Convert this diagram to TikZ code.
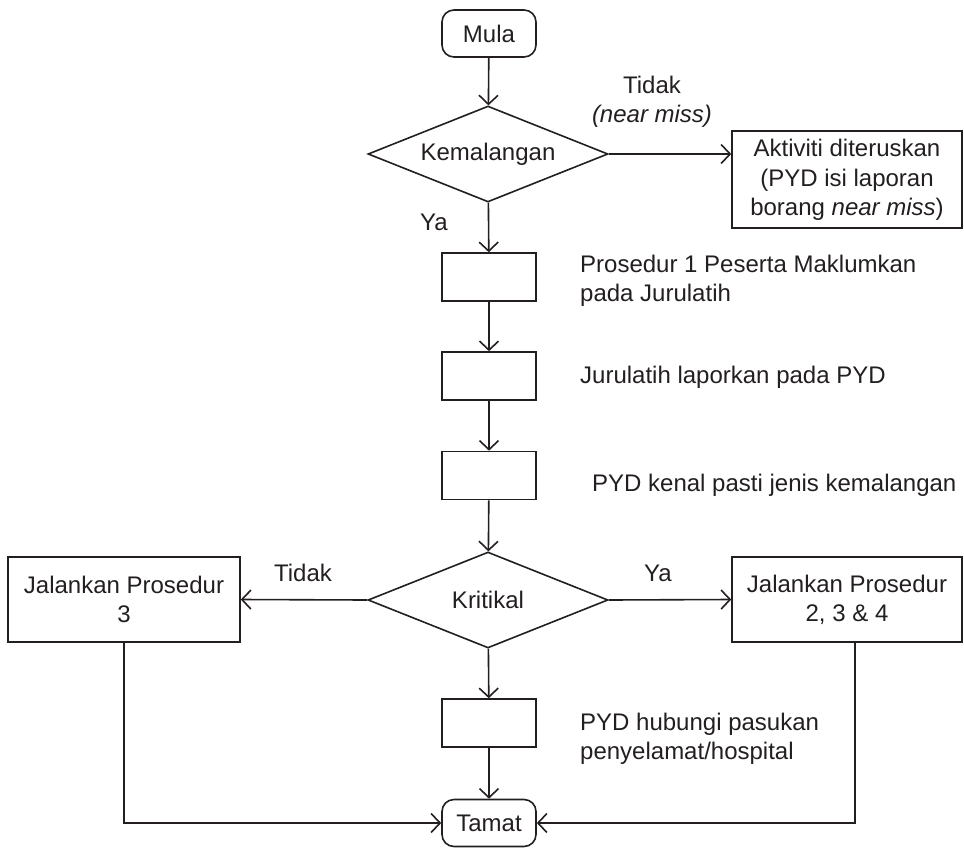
\documentclass[tikz,border=0pt]{standalone}
\usepackage{fontspec}
\setmainfont{Liberation Sans}
\usetikzlibrary{shapes.geometric,arrows.meta}
\definecolor{ink}{HTML}{231F20}
\begin{document}
\begin{tikzpicture}[x=1pt,y=-1pt,
  every node/.style={text=ink, font=\fontsize{24}{29}\selectfont},
  line/.style={draw=ink, line width=1.6pt},
  arr/.style={line, -{Straight Barb[length=9pt,width=19pt]}},
  term/.style={draw=ink, line width=1.6pt, rounded corners=12pt, minimum width=94pt, minimum height=47pt, inner sep=0pt},
  proc/.style={draw=ink, line width=1.6pt, minimum width=94pt, minimum height=48pt, inner sep=0pt},
  dec/.style={draw=ink, line width=1.6pt, diamond, aspect=2.5, minimum width=240pt, minimum height=96pt, inner sep=0pt},
  bigbox/.style={draw=ink, line width=1.6pt, minimum width=230pt, inner sep=0pt, align=center},
  lbl/.style={inner sep=0pt}]
\useasboundingbox (0,0) rectangle (964,854);
% main column
\node[term] (mula) at (489,33.5) {Mula};
\node[dec] (kem) at (488,154) {Kemalangan};
\node[proc] (b1) at (489,277) {};
\node[proc] (b2) at (489,376) {};
\node[proc] (b3) at (489,475.5) {};
\node[dec] (krit) at (488,600) {Kritikal};
\node[proc] (b4) at (489,723) {};
\node[term] (tamat) at (489,823) {Tamat};
% side boxes
\node[bigbox, minimum height=97pt] (akt) at (847,179.5) {Aktiviti diteruskan\\[1pt](PYD isi laporan\\borang \textit{near miss})};
\node[bigbox, minimum width=232pt, minimum height=85pt] (kiri) at (124,599.5) {Jalankan Prosedur\\3};
\node[bigbox, minimum height=85pt] (kanan) at (847,599.5) {Jalankan Prosedur\\2, 3 \& 4};
% labels
\node[lbl, align=center] (ltidak) at (652,102) {Tidak\\\textit{(near miss)}};
\node[lbl] (lya) at (434,222) {Ya};
\node[lbl, anchor=west, align=left] (t1) at (580,280.5) {Prosedur 1 Peserta Maklumkan\\pada Jurulatih};
\node[lbl, anchor=west] (t2) at (580,377) {Jurulatih laporkan pada PYD};
\node[lbl, anchor=west] (t3) at (592,485) {PYD kenal pasti jenis kemalangan};
\node[lbl, anchor=west, align=left] (t4) at (580,739) {PYD hubungi pasukan\\penyelamat/hospital};
\node[lbl] (ltidak2) at (303,573) {Tidak};
\node[lbl] (lya2) at (658,573) {Ya};
% connectors
\draw[arr] (mula) -- (kem);
\draw[arr] (kem.east) -- (kem.east -| akt.west);
\draw[arr] (kem) -- (b1);
\draw[arr] (b1) -- (b2);
\draw[arr] (b2) -- (b3);
\draw[arr] (b3) -- (krit);
\draw[arr] (krit.west) -- (kiri.east);
\draw[arr] (krit.east) -- (kanan.west);
\draw[arr] (krit) -- (b4);
\draw[arr] (b4) -- (tamat);
\draw[arr] (kiri.south) |- (tamat.west);
\coordinate (kr) at ([xshift=8pt]kanan.south);
\draw[arr] (kr) |- (tamat.east);
\end{tikzpicture}
\end{document}
